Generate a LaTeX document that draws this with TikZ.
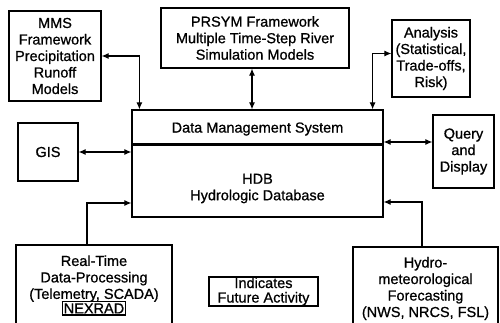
\documentclass[tikz,border=0pt]{standalone}
\usepackage{fontspec}
\setmainfont[FakeBold=0.8]{Liberation Sans}
\usetikzlibrary{arrows.meta}
\begin{document}
\begin{tikzpicture}[x=1pt,y=-1pt,>={Latex[length=7pt,width=6pt]},line join=miter]
  \tikzstyle{block}=[draw,line width=1.2pt,align=center,inner sep=0pt,font=\fontsize{14.5}{16.5}\selectfont]
  \tikzstyle{link}=[line width=1.1pt]
  \clip (0,0) rectangle (500,323);
  \node[block,minimum width=92pt,minimum height=90pt] (mms) at (55,56) {MMS\\Framework\\Precipitation\\Runoff\\Models};
  \node[block,minimum width=188pt,minimum height=60pt] (prsym) at (255,38) {PRSYM Framework\\Multiple Time-Step River\\Simulation Models};
  \node[block,minimum width=78pt,minimum height=77pt] (analysis) at (431,58.5) {Analysis\\(Statistical,\\Trade-offs,\\Risk)};
  \node[block,minimum width=251pt,minimum height=107pt] (dms) at (257.5,163.5) {};
  \node[font=\fontsize{14.5}{16.5}\selectfont] (dmstitle) at (257.5,129) {Data Management System};
  \node[font=\fontsize{14.5}{16.5}\selectfont,align=center] (hdb) at (257.5,188.5) {HDB\\Hydrologic Database};
  \node[block,minimum width=60pt,minimum height=58pt] (gis) at (48,152) {GIS};
  \node[block,minimum width=61pt,minimum height=73pt] (query) at (463.5,151.5) {Query\\and\\Display};
  \node[block,minimum width=156pt,minimum height=81pt] (rt) at (94,285.5) {Real-Time\\Data-Processing\\(Telemetry, SCADA)\\[-2pt]\setlength{\fboxsep}{1pt}\setlength{\fboxrule}{1.2pt}\fbox{NEXRAD}};
  \node[block,minimum width=145pt,minimum height=83pt] (hydro) at (425.5,288.5) {Hydro-\\meteorological\\Forecasting\\(NWS, NRCS, FSL)};
  \node[block,minimum width=109pt,minimum height=29pt,font=\fontsize{14.5}{14.5}\selectfont] (future) at (263.5,291.5) {Indicates\\Future Activity};
  % thick rule under the title of the data management box
  \draw[line width=3pt] (dms.west |- 0,145) -- (dms.east |- 0,145);
  % connectors
  \coordinate (qy) at ([yshift=9.5]query.west);
  \draw[link,<->] (mms.east) -| ([xshift=8]dms.north west);
  \draw[link,<->] ([xshift=-3]prsym.south) -- ([xshift=-3]prsym.south |- dms.north);
  \draw[link,<->] ([yshift=5]analysis.west) -| ([xshift=-11]dms.north east);
  \draw[link,<->] (gis.east) -- (gis.east -| dms.west);
  \draw[link,<->] (qy -| dms.east) -- (qy);
  \draw[link,->] ([xshift=-7]rt.north) |- ([yshift=-39.5]dms.west);
  \draw[link,->] ([xshift=-3.5]hydro.north) |- ([yshift=-38.5]dms.east);
\end{tikzpicture}
\end{document}
